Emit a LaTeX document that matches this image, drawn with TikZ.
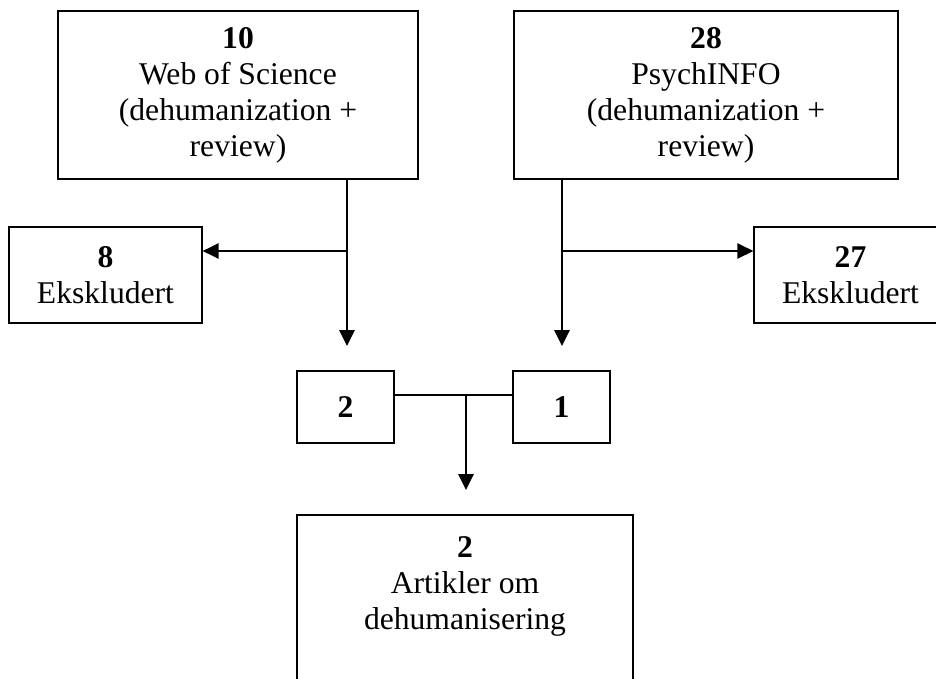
\documentclass[tikz,border=0pt]{standalone}
\usepackage{fontspec}
\setmainfont{Liberation Serif}
\usetikzlibrary{arrows.meta}

\begin{document}
\begin{tikzpicture}[x=0.02cm, y=-0.02cm]
\clip (0, 0) rectangle (936, 679);

\begin{scope}[every node/.style={rectangle,line width=0.8pt,align=center,inner sep=0pt,font=\fontsize{18}{20.5}\selectfont}]
    \node (wos) at (238, 95) [draw, minimum width=7.2cm, minimum height=3.36cm] {\textbf{10}\\Web of Science\\(dehumanization +\\review)};
    \node (psy) at (706, 95) [draw, minimum width=7.68cm, minimum height=3.36cm] {\textbf{28}\\PsychINFO\\(dehumanization +\\review)};

    \node (exl) at (105.5, 275) [draw, minimum width=3.86cm, minimum height=1.92cm] {\textbf{8}\\Ekskludert};
    \node (exr) at (850.5, 275) [draw, minimum width=3.86cm, minimum height=1.92cm] {\textbf{27}\\Ekskludert};

    \node (two) at (345.5, 407) [draw, minimum width=1.94cm, minimum height=1.44cm] {\textbf{2}};
    \node (one) at (561.5, 407) [draw, minimum width=1.94cm, minimum height=1.44cm] {\textbf{1}};

    \node (res) at (465, 616) [draw, minimum width=6.72cm, minimum height=4.04cm] {};
    \node (restext) at (465, 586) {\textbf{2}\\Artikler om\\dehumanisering};
\end{scope}

\begin{scope}[>={Triangle[length=0.32cm,width=0.31cm]},
              every edge/.style={draw=black,line width=0.8pt}]

    \coordinate (wosfork) at (347, 251);
    \coordinate (wosend) at (347, 346);
    \coordinate (psyfork) at (562, 251);
    \coordinate (psyend) at (562, 346);
    \coordinate (join) at (466, 395);
    \coordinate (joinend) at (466, 490);

    \path [-] (wosfork |- wos.south) edge node {} (wosfork);
    \path [->] (wosfork) edge node {} (exl.east |- wosfork);
    \path [->] (wosfork) edge node {} (wosend);

    \path [-] (psyfork |- psy.south) edge node {} (psyfork);
    \path [->] (psyfork) edge node {} (exr.west |- psyfork);
    \path [->] (psyfork) edge node {} (psyend);

    \path [-] (two.east |- join) edge node {} (one.west |- join);
    \path [->] (join) edge node {} (joinend);
\end{scope}
\end{tikzpicture}
\end{document}
